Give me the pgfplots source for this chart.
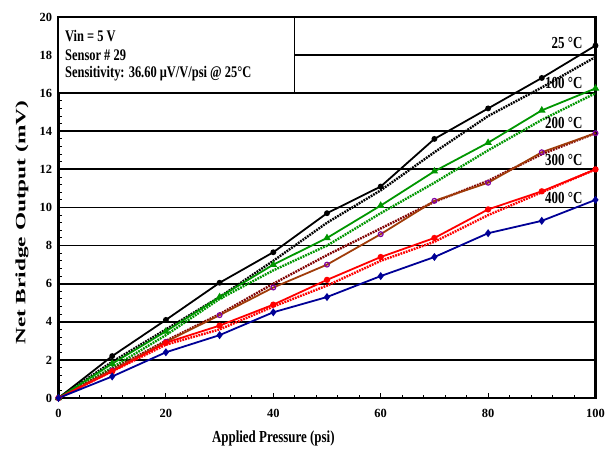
\documentclass[border=0pt]{standalone}
\usepackage{fontspec}
\setmainfont{Liberation Serif}
\usepackage{pgfplots}
\pgfplotsset{compat=1.18}

\definecolor{cgreen}{RGB}{0,150,0}
\definecolor{cbrown}{RGB}{160,60,10}
\definecolor{cdred}{RGB}{128,0,0}
\definecolor{cpurple}{RGB}{128,0,160}
\definecolor{cred}{RGB}{255,0,0}
\definecolor{cblue}{RGB}{0,0,150}

\newcommand{\tall}[1]{\scalebox{1}[1.3]{#1}}

\begin{document}
\begin{tikzpicture}
\begin{axis}[
  scale only axis, width=537bp, height=381bp,
  xmin=0, xmax=100, ymin=0, ymax=20,
  xtick={0,20,...,100}, ytick={0,2,...,20},
  minor x tick num=4, minor y tick num=4,
  xtick pos=lower, ytick pos=left, tick align=inside,
  major tick length=5bp, minor tick length=3.5bp,
  every tick/.style={black, line width=1bp},
  ymajorgrids, grid style={black, line width=1.8bp},
  axis line style={line width=2.4bp},
  /pgf/number format/assume math mode=true,
  tick label style={font=\fontsize{12.5}{13}\selectfont\bfseries},
  xticklabel style={yshift=-8bp},
  yticklabel style={xshift=-3bp},
  clip=false,
  every axis plot/.append style={line width=1.8bp},
]
% info box
\draw[fill=white, line width=1.4bp] (axis cs:0,16) rectangle (axis cs:44,20);
\begin{scope}[every node/.style={anchor=west, font=\fontsize{12.5}{13}\selectfont\bfseries, inner sep=0pt}]
\node at (axis cs:1.2,19.0) {\tall{Vin = 5 V}};
\node at (axis cs:1.2,18.0) {\tall{Sensor \# 29}};
\node at (axis cs:1.2,17.05) {\tall{Sensitivity: 36.60 μV/V/psi @ 25°C}};
\end{scope}

% dotted series
\addplot[black, densely dotted, line width=2.4bp] coordinates
  {(0,0) (10,1.9) (20,3.6) (30,5.3) (40,7.2) (50,9.2) (60,10.9) (70,12.9) (80,14.8) (90,16.3) (100,17.9)};
\addplot[cgreen, densely dotted, line width=2.4bp] coordinates
  {(0,0) (10,1.6) (20,3.3) (30,5.2) (40,6.7) (50,8.0) (60,9.7) (70,11.3) (80,13.0) (90,14.6) (100,16.0)};
\addplot[cdred, densely dotted, line width=2.4bp] coordinates
  {(0,0) (10,1.5) (20,3.0) (30,4.4) (40,6.0) (50,7.5) (60,8.9) (70,10.3) (80,11.4) (90,12.8) (100,13.9)};
\addplot[cred, densely dotted, line width=2.4bp] coordinates
  {(0,0) (10,1.4) (20,2.8) (30,3.6) (40,4.8) (50,5.9) (60,7.2) (70,8.2) (80,9.6) (90,10.8) (100,12.0)};

% solid series
\addplot[black, mark=*, mark size=2pt] coordinates
  {(0,0) (10,2.2) (20,4.1) (30,6.05) (40,7.65) (50,9.7) (60,11.1) (70,13.6) (80,15.2) (90,16.8) (100,18.5)};
\addplot[cgreen, mark=triangle*, mark size=2.6pt] coordinates
  {(0,0) (10,1.8) (20,3.5) (30,5.3) (40,7.0) (50,8.4) (60,10.1) (70,11.9) (80,13.4) (90,15.1) (100,16.25)};
\addplot[cbrown, mark=o, mark size=2.4pt, mark options={draw=cpurple, line width=1.2bp}] coordinates
  {(0,0) (10,1.45) (20,2.95) (30,4.35) (40,5.8) (50,7.0) (60,8.6) (70,10.35) (80,11.3) (90,12.9) (100,13.9)};
\addplot[cred, mark=*, mark size=2.2pt] coordinates
  {(0,0) (10,1.4) (20,2.9) (30,3.8) (40,4.9) (50,6.2) (60,7.4) (70,8.4) (80,9.9) (90,10.85) (100,12.0)};
\addplot[cblue, mark=diamond*, mark size=2.6pt] coordinates
  {(0,0) (10,1.13) (20,2.4) (30,3.3) (40,4.5) (50,5.3) (60,6.4) (70,7.4) (80,8.65) (90,9.3) (100,10.4)};

% temperature labels
\begin{scope}[every node/.style={anchor=east, font=\fontsize{13}{14}\selectfont\bfseries, inner sep=0pt}]
\node at (axis cs:97.6,18.65) {\tall{25 °C}};
\node at (axis cs:97.6,16.55) {\tall{100 °C}};
\node at (axis cs:97.6,14.45) {\tall{200 °C}};
\node at (axis cs:97.6,12.5) {\tall{300 °C}};
\node at (axis cs:97.6,10.5) {\tall{400 °C}};
\end{scope}

% axis titles
\node[font=\fontsize{13}{14}\selectfont\bfseries, inner sep=0pt] at ([yshift=-40bp]rel axis cs:0.4,0) {\tall{Applied Pressure (psi)}};
\node[font=\fontsize{13}{14}\selectfont\bfseries, inner sep=0pt, rotate=90] at ([xshift=-36.5bp]rel axis cs:0,0.46) {\scalebox{1.8}[1.1]{Net Bridge Output (mV)}};
\end{axis}
\pgfresetboundingbox
\useasboundingbox (current axis.south west) ++(-58.5bp,-51bp) rectangle ([xshift=17.5bp,yshift=17bp]current axis.north east);
\end{tikzpicture}
\end{document}
